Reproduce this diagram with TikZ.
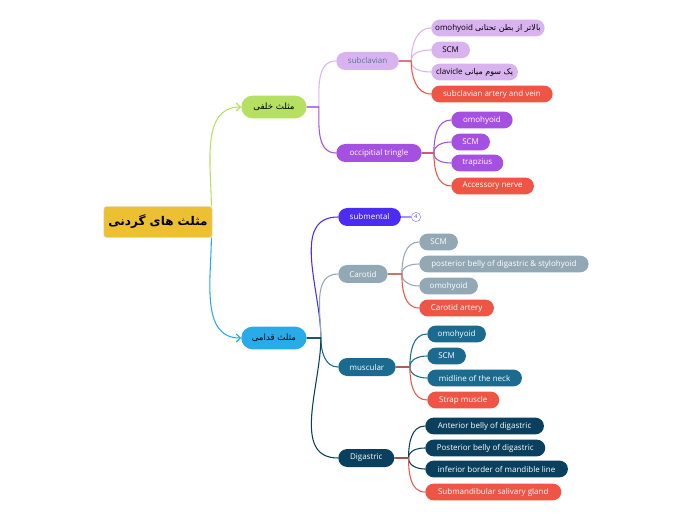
\documentclass[tikz,border=0pt]{standalone}
\usepackage{fontspec}
\setmainfont{Open Sans}
\newfontfamily\arabicfont[Script=Arabic]{DejaVu Sans}
\TeXXeTstate=1
\usetikzlibrary{shapes.misc,arrows.meta}
\definecolor{cyel}{HTML}{EDBF33}
\definecolor{cgrn}{HTML}{B5E061}
\definecolor{cblu}{HTML}{29ABE9}
\definecolor{clpur}{HTML}{D9B3F0}
\definecolor{cpur}{HTML}{A550E0}
\definecolor{cred}{HTML}{EE5544}
\definecolor{cvio}{HTML}{4B2CF0}
\definecolor{cgry}{HTML}{93A8B5}
\definecolor{cteal}{HTML}{1A6B8F}
\definecolor{cnavy}{HTML}{0B3F5E}
\newcommand{\fa}[1]{{\arabicfont\beginR #1\endR}}
\begin{document}
\begin{tikzpicture}[x=0.75pt,y=-0.75pt,
  leaf/.style={rounded rectangle,anchor=west,minimum height=12.5pt,inner sep=1pt,font=\fontsize{6}{7}\selectfont,text=white},
  mid/.style={leaf,minimum height=13.5pt},
  top/.style={leaf,minimum height=17pt,font=\fontsize{6.5}{8}\selectfont,text=black},
  ln/.style={line width=0.8pt}]
\useasboundingbox (0,0) rectangle (696,520);
\node[draw=cyel!80!black!40,fill=cyel,rounded corners=2pt,minimum width=80pt,minimum height=23pt,font=\bfseries\fontsize{9}{10}\selectfont] (root) at (158,222) {\fa{مثلث های گردنی}};
\node[top,fill=cgrn,minimum width=51pt] (post) at (241,107) {\fa{مثلث خلفی}};
\node[top,fill=cblu,minimum width=51pt] (ant) at (241,338) {\fa{مثلث قدامی}};
% posterior branch
\node[mid,fill=clpur,text=cnavy!70,minimum width=49pt] (sub) at (336,61) {subclavian};
\node[mid,fill=cpur,minimum width=66pt] (occ) at (336,153) {occipitial tringle};
\node[leaf,fill=clpur,text=black,minimum width=87pt] (s1) at (431,28) {omohyoid \fa{بالاتر از بطن تحتانی}};
\node[leaf,fill=clpur,text=black,minimum width=31pt] (s2) at (431,50) {SCM};
\node[leaf,fill=clpur,text=black,minimum width=67pt] (s3) at (431,72) {clavicle \fa{یک سوم میانی}};
\node[leaf,fill=cred,minimum width=93pt] (s4) at (431,94) {subclavian artery and vein};
\node[leaf,fill=cpur,minimum width=48pt] (o1) at (451,120) {omohyoid};
\node[leaf,fill=cpur,minimum width=31pt] (o2) at (451,142) {SCM};
\node[leaf,fill=cpur,minimum width=41pt] (o3) at (451,163) {trapzius};
\node[leaf,fill=cred,minimum width=64pt] (o4) at (451,186) {Accessory nerve};
% anterior branch
\node[mid,fill=cvio,minimum width=49pt] (smt) at (338,217) {submental};
\node[circle,draw=cvio!60,inner sep=0pt,minimum size=7pt,font=\fontsize{4}{4}\selectfont,text=cvio] (cnt) at (416,217) {4};
\node[mid,fill=cgry,minimum width=39pt] (car) at (338,274) {Carotid};
\node[mid,fill=cteal,minimum width=45pt] (mus) at (338,367) {muscular};
\node[mid,fill=cnavy,minimum width=44pt] (dig) at (338,458) {Digastric};
\node[leaf,fill=cgry,minimum width=31pt] (c1) at (419,242) {SCM};
\node[leaf,fill=cgry,minimum width=129pt] (c2) at (419,264) {posterior belly of digastric \& stylohyoid};
\node[leaf,fill=cgry,minimum width=46pt] (c3) at (419,286) {omohyoid};
\node[leaf,fill=cred,minimum width=58pt] (c4) at (419,308) {Carotid artery};
\node[leaf,fill=cteal,minimum width=46pt] (m1) at (427,334) {omohyoid};
\node[leaf,fill=cteal,minimum width=31pt] (m2) at (427,356) {SCM};
\node[leaf,fill=cteal,minimum width=73pt] (m3) at (427,378) {midline of the neck};
\node[leaf,fill=cred,minimum width=56pt] (m4) at (427,400) {Strap muscle};
\node[leaf,fill=cnavy,minimum width=91pt] (d1) at (425,426) {Anterior belly of digastric};
\node[leaf,fill=cnavy,minimum width=92pt] (d2) at (425,448) {Posterior belly of digastric};
\node[leaf,fill=cnavy,minimum width=109pt] (d3) at (425,469) {inferior border of mandible line};
\node[leaf,fill=cred,minimum width=104pt] (d4) at (425,492) {Submandibular salivary gland};
% root connectors
\draw[ln,cgrn,-{Straight Barb[length=3pt]}] ([xshift=40]root.north) to[out=90,in=180] (post.west);
\draw[ln,cblu,-{Straight Barb[length=3pt]}] ([xshift=40]root.south) to[out=-90,in=180] (ant.west);
% helper
\newcommand{\cn}[5]{\draw[ln,#1] (#2.east) -- ++(#5,0) to[out=#4,in=180] (#3.west);}
\cn{clpur}{post}{sub}{90}{12}
\cn{cpur}{post}{occ}{-90}{12}
\cn{clpur}{sub}{s1}{90}{12}
\cn{clpur}{sub}{s2}{90}{12}
\cn{clpur}{sub}{s3}{-90}{12}
\cn{cred}{sub}{s4}{-90}{12}
\cn{cpur}{occ}{o1}{90}{12}
\cn{cpur}{occ}{o2}{90}{12}
\cn{cpur}{occ}{o3}{-90}{12}
\cn{cred}{occ}{o4}{-90}{12}
\cn{cvio}{ant}{smt}{90}{14}
\cn{cgry}{ant}{car}{90}{14}
\cn{cteal}{ant}{mus}{-90}{14}
\cn{cnavy}{ant}{dig}{-90}{14}
\draw[ln,cvio!50] (smt.east) -- (cnt.west);
\cn{cgry}{car}{c1}{90}{14}
\cn{cgry}{car}{c2}{90}{14}
\cn{cgry}{car}{c3}{-90}{14}
\cn{cred}{car}{c4}{-90}{14}
\cn{cteal}{mus}{m1}{90}{14}
\cn{cteal}{mus}{m2}{90}{14}
\cn{cteal}{mus}{m3}{-90}{14}
\cn{cred}{mus}{m4}{-90}{14}
\cn{cnavy}{dig}{d1}{90}{14}
\cn{cnavy}{dig}{d2}{90}{14}
\cn{cnavy}{dig}{d3}{-90}{14}
\cn{cred}{dig}{d4}{-90}{14}
\end{tikzpicture}
\end{document}
